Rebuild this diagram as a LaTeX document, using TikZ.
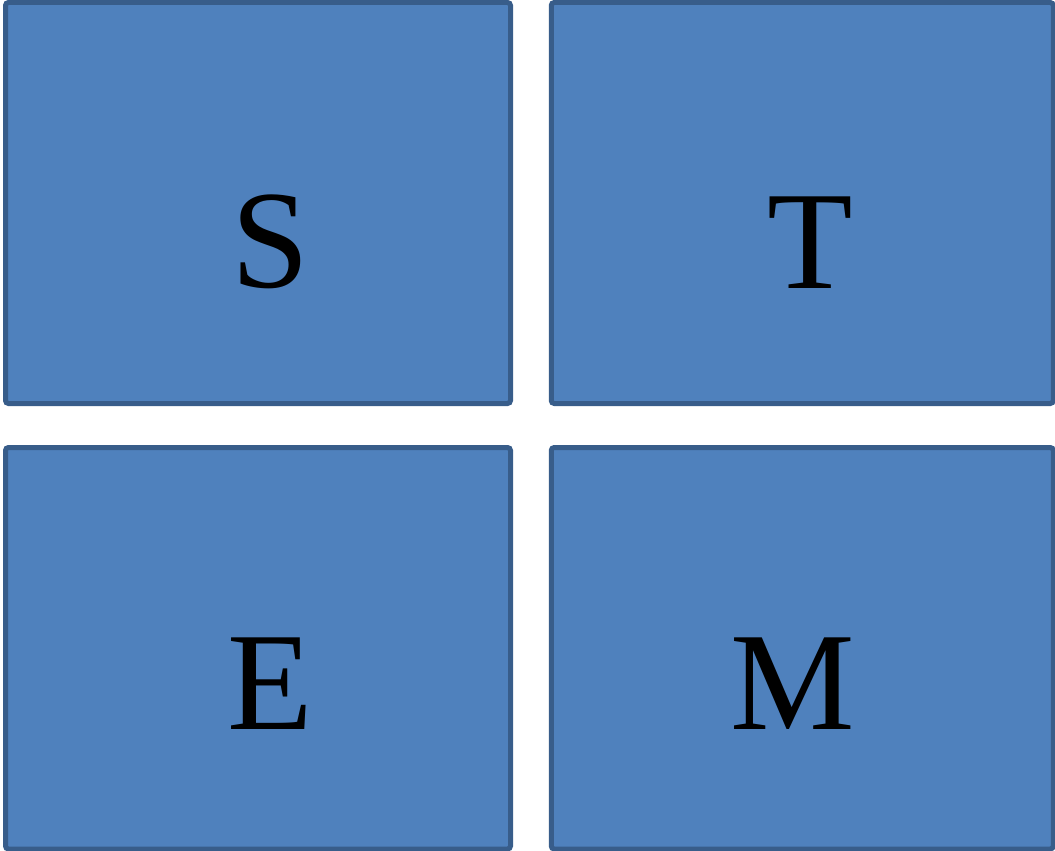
\documentclass[tikz,border=0pt]{standalone}
\usepackage{fontspec}
\setmainfont{Liberation Serif}
\definecolor{boxfill}{HTML}{4F81BD}
\definecolor{boxline}{HTML}{385D8A}
\begin{document}
\begin{tikzpicture}[x=1pt,y=-1pt,
  panel/.style={draw=boxline, fill=boxfill, line width=5pt, rounded corners=3pt, inner sep=0pt, minimum width=#1, minimum height=401pt},
  letter/.style={anchor=base, inner sep=0pt, font=\fontsize{140}{140}\selectfont}]
\useasboundingbox (0,0) rectangle (1055,851);
\node[panel=505pt] (bs) at (258,203) {};
\node[panel=502pt] (bt) at (802.25,203) {};
\node[panel=505pt, minimum height=401.5pt] (be) at (258,648.25) {};
\node[panel=502pt, minimum height=401.5pt] (bm) at (802.25,648.25) {};
\node[letter] (s) at (270,287.5) {S};
\node[letter] (t) at (810,288) {T};
\node[letter] (e) at (270,729) {E};
\node[letter] (m) at (793,729.5) {M};
\end{tikzpicture}
\end{document}
